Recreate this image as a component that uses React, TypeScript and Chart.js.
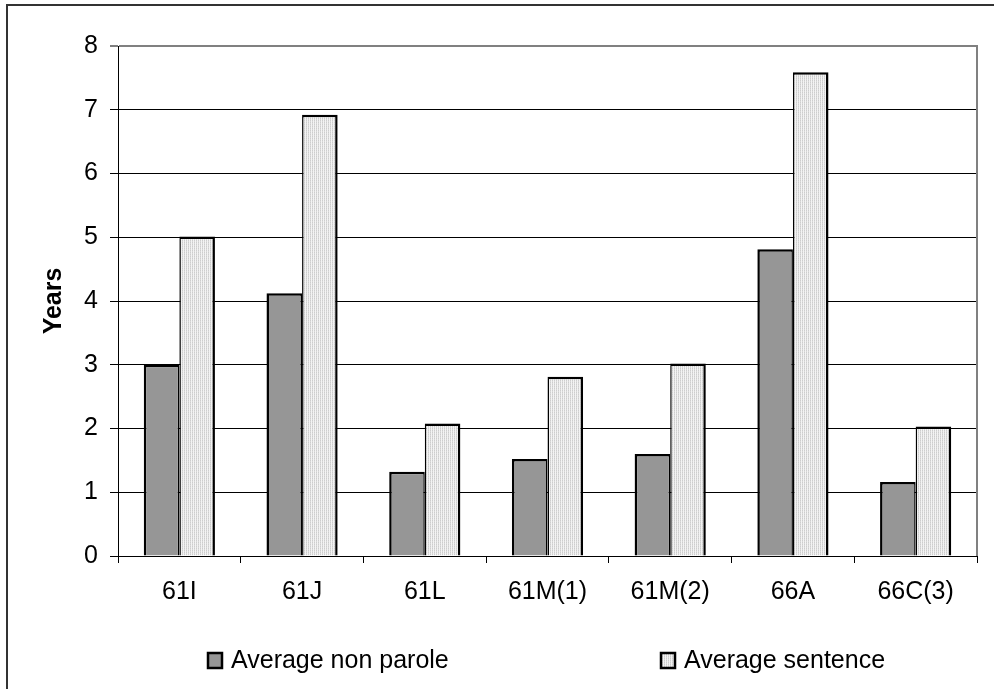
import React, { useEffect, useRef } from "react";
import { Chart, registerables } from "chart.js";

Chart.register(...registerables);

const categories = ["61I", "61J", "61L", "61M(1)", "61M(2)", "66A", "66C(3)"];
const nonParoleValues = [3.0, 4.12, 1.32, 1.52, 1.6, 4.81, 1.16];
const sentenceValues = [5.01, 6.92, 2.08, 2.81, 3.02, 7.59, 2.03];
const seriesNames = ["Average non parole", "Average sentence"];
const yTicks = [0, 1, 2, 3, 4, 5, 6, 7, 8];
const yTitle = "Years";

const FONT = "'Liberation Sans', Arial, Helvetica, sans-serif";

function makePattern(): CanvasPattern | string {
  const c = document.createElement("canvas");
  c.width = 2;
  c.height = 2;
  const g = c.getContext("2d");
  if (!g) return "#e4e4e4";
  g.fillStyle = "#f3f3f3";
  g.fillRect(0, 0, 2, 2);
  g.fillStyle = "#cdcdcd";
  g.fillRect(0, 0, 1, 1);
  g.fillStyle = "#dadada";
  g.fillRect(0, 1, 1, 1);
  const p = g.createPattern(c, "repeat");
  return p || "#e4e4e4";
}

export default function App() {
  const ref = useRef<HTMLCanvasElement | null>(null);

  useEffect(() => {
    if (!ref.current) return;
    const pattern = makePattern();
    const fills = ["#969696", pattern];

    const decor = {
      id: "decor",
      afterDraw(chart: any) {
        const ctx = chart.ctx;
        const a = chart.chartArea;
        ctx.save();
        ctx.strokeStyle = "#808080";
        ctx.lineWidth = 2;
        ctx.beginPath();
        ctx.moveTo(a.right, a.top - 1);
        ctx.lineTo(a.right, a.bottom);
        ctx.stroke();
        ctx.strokeStyle = "#333333";
        ctx.lineWidth = 2;
        ctx.strokeRect(7, 5, 1200, 1000);
        const starts = [207, 660];
        const boxY = 652;
        const box = 16;
        ctx.font = "25px " + FONT;
        ctx.textBaseline = "middle";
        ctx.textAlign = "left";
        seriesNames.forEach((name, i) => {
          const x = starts[i];
          ctx.fillStyle = fills[i] as any;
          ctx.fillRect(x, boxY, box, box + 1);
          ctx.strokeStyle = "#000";
          ctx.lineWidth = 2.5;
          ctx.strokeRect(x + 1, boxY + 1, box - 2, box - 1);
          ctx.fillStyle = "#000";
          ctx.fillText(name, x + box + 8, boxY + 9);
        });
        ctx.restore();
      },
    };

    const chart = new Chart(ref.current, {
      type: "bar",
      data: {
        labels: categories,
        datasets: [
          {
            label: seriesNames[0],
            data: nonParoleValues,
            backgroundColor: fills[0] as any,
            borderColor: "#000",
            borderWidth: { top: 2.5, left: 2.5, right: 1.5, bottom: 0 } as any,
            categoryPercentage: 0.58,
            barPercentage: 1,
          },
          {
            label: seriesNames[1],
            data: sentenceValues,
            backgroundColor: fills[1] as any,
            borderColor: "#000",
            borderWidth: { top: 2.5, left: 1.5, right: 2.5, bottom: 0 } as any,
            categoryPercentage: 0.58,
            barPercentage: 1,
          },
        ],
      },
      options: {
        responsive: false,
        animation: false,
        devicePixelRatio: 1,
        layout: { padding: { top: 46, right: 17, bottom: 0, left: 0 } },
        plugins: {
          legend: { display: false },
          tooltip: { enabled: false },
          title: { display: false },
        },
        scales: {
          x: {
            type: "category",
            offset: true,
            grid: {
              offset: true,
              drawOnChartArea: false,
              drawTicks: true,
              tickLength: 7,
              color: "#000",
              tickColor: "#000",
              lineWidth: 1,
            },
            border: { display: true, color: "#000", width: 1 },
            ticks: {
              color: "#000",
              font: { family: FONT, size: 25 },
              padding: 14,
              maxRotation: 0,
              autoSkip: false,
            },
            afterFit: (scale: any) => {
              scale.height = 133;
            },
          },
          y: {
            type: "linear",
            min: yTicks[0],
            max: yTicks[yTicks.length - 1],
            afterBuildTicks: (scale: any) => {
              scale.ticks = yTicks.map((v) => ({ value: v }));
            },
            grid: {
              drawTicks: true,
              tickLength: 8,
              color: (ctx: any) =>
                ctx.tick && ctx.tick.value === yTicks[yTicks.length - 1] ? "#808080" : "#000",
              lineWidth: (ctx: any) =>
                ctx.tick && ctx.tick.value === yTicks[yTicks.length - 1] ? 2 : 1,
              tickColor: "#000",
              tickWidth: 1,
            },
            border: { display: true, color: "#000", width: 1 },
            ticks: {
              color: "#000",
              font: { family: FONT, size: 25 },
              padding: 12,
            },
            title: {
              display: true,
              text: yTitle,
              color: "#000",
              font: { family: FONT, size: 25, weight: "bold" },
              padding: { top: 39, bottom: 0 },
            },
            afterFit: (scale: any) => {
              scale.width = 118;
            },
          },
        },
      },
      plugins: [decor],
    });
    return () => chart.destroy();
  }, []);

  return (
    <div
      style={{
        position: "fixed",
        left: 0,
        top: 0,
        width: 994,
        height: 689,
        overflow: "hidden",
        background: "#fff",
      }}
    >
      <canvas ref={ref} width={994} height={689} style={{ display: "block" }} />
    </div>
  );
}
